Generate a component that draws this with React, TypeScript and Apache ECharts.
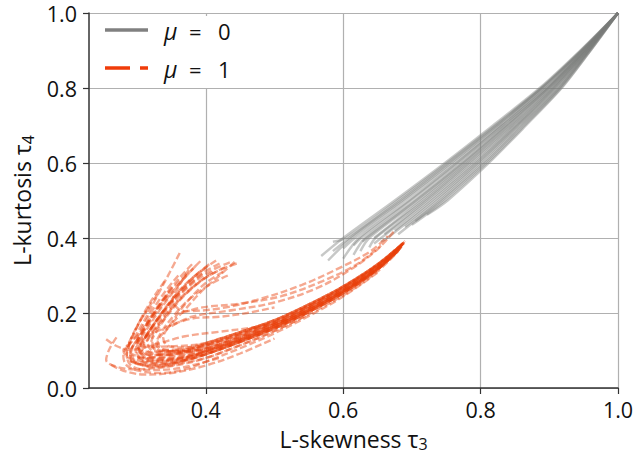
import React, { useEffect, useRef } from 'react';
import * as echarts from 'echarts';

const xTickValues = [0.4, 0.6, 0.8, 1.0];
const xRange = [0.23, 1.0];
const yRange = [0, 1.0];
const legendLabels = ['0', '1'];

// mu = 0 curves: [tau3, tau4] points
const mu0Lines: number[][][] = [
  [[0.568, 0.352], [0.600, 0.400], [0.675, 0.500], [0.748, 0.600], [0.818, 0.700], [0.886, 0.800], [0.945, 0.900], [1, 1]],
  [[0.585, 0.365], [0.609, 0.400], [0.683, 0.500], [0.754, 0.600], [0.823, 0.700], [0.889, 0.800], [0.947, 0.900], [1, 1]],
  [[0.600, 0.372], [0.617, 0.400], [0.690, 0.500], [0.761, 0.600], [0.828, 0.700], [0.892, 0.800], [0.948, 0.900], [1, 1]],
  [[0.615, 0.380], [0.626, 0.400], [0.698, 0.500], [0.767, 0.600], [0.832, 0.700], [0.896, 0.800], [0.950, 0.900], [1, 1]],
  [[0.628, 0.390], [0.634, 0.400], [0.706, 0.500], [0.774, 0.600], [0.837, 0.700], [0.899, 0.800], [0.951, 0.900], [1, 1]],
  [[0.645, 0.400], [0.714, 0.500], [0.780, 0.600], [0.842, 0.700], [0.902, 0.800], [0.953, 0.900], [1, 1]],
  [[0.660, 0.410], [0.721, 0.500], [0.786, 0.600], [0.847, 0.700], [0.905, 0.800], [0.954, 0.900], [1, 1]],
  [[0.675, 0.420], [0.729, 0.500], [0.793, 0.600], [0.852, 0.700], [0.908, 0.800], [0.956, 0.900], [1, 1]],
  [[0.690, 0.430], [0.737, 0.500], [0.799, 0.600], [0.856, 0.700], [0.912, 0.800], [0.957, 0.900], [1, 1]],
  [[0.705, 0.445], [0.744, 0.500], [0.806, 0.600], [0.861, 0.700], [0.915, 0.800], [0.959, 0.900], [1, 1]],
  [[0.722, 0.462], [0.752, 0.500], [0.812, 0.600], [0.866, 0.700], [0.918, 0.800], [0.960, 0.900], [1, 1]],
  [[0.578, 0.340], [0.612, 0.400], [0.686, 0.500], [0.757, 0.600], [0.825, 0.700], [0.890, 0.800], [0.947, 0.900], [1, 1]],
  [[0.600, 0.345], [0.623, 0.400], [0.696, 0.500], [0.765, 0.600], [0.831, 0.700], [0.895, 0.800], [0.949, 0.900], [1, 1]],
  [[0.615, 0.355], [0.632, 0.400], [0.704, 0.500], [0.772, 0.600], [0.836, 0.700], [0.898, 0.800], [0.951, 0.900], [1, 1]],
  [[0.625, 0.365], [0.638, 0.400], [0.710, 0.500], [0.777, 0.600], [0.840, 0.700], [0.900, 0.800], [0.952, 0.900], [1, 1]],
  [[0.638, 0.375], [0.647, 0.400], [0.718, 0.500], [0.783, 0.600], [0.845, 0.700], [0.904, 0.800], [0.954, 0.900], [1, 1]],
  [[0.645, 0.385], [0.655, 0.400], [0.725, 0.500], [0.790, 0.600], [0.850, 0.700], [0.907, 0.800], [0.955, 0.900], [1, 1]],
  [[0.655, 0.390], [0.664, 0.400], [0.733, 0.500], [0.796, 0.600], [0.854, 0.700], [0.910, 0.800], [0.957, 0.900], [1, 1]],
  [[0.680, 0.410], [0.741, 0.500], [0.803, 0.600], [0.859, 0.700], [0.914, 0.800], [0.958, 0.900], [1, 1]],
  [[0.700, 0.435], [0.748, 0.500], [0.809, 0.600], [0.864, 0.700], [0.917, 0.800], [0.960, 0.900], [1, 1]],
  [[0.585, 0.390], [0.604, 0.400], [0.679, 0.500], [0.751, 0.600], [0.821, 0.700], [0.888, 0.800], [0.946, 0.900], [1, 1]],
];

// mu = 1 curves: [tau3, tau4] points
const mu1Lines: number[][][] = [
  [[0.420, 0.332], [0.390, 0.300], [0.360, 0.250], [0.338, 0.200], [0.318, 0.150], [0.305, 0.110], [0.315, 0.085], [0.345, 0.080], [0.375, 0.088], [0.40, 0.098], [0.45, 0.129], [0.50, 0.165], [0.55, 0.208], [0.60, 0.258], [0.65, 0.319], [0.685, 0.378]],
  [[0.400, 0.320], [0.375, 0.285], [0.350, 0.235], [0.330, 0.185], [0.312, 0.135], [0.300, 0.095], [0.310, 0.070], [0.340, 0.065], [0.372, 0.075], [0.40, 0.090], [0.45, 0.123], [0.50, 0.159], [0.55, 0.203], [0.60, 0.253], [0.65, 0.316], [0.683, 0.372]],
  [[0.435, 0.335], [0.405, 0.310], [0.372, 0.265], [0.348, 0.215], [0.328, 0.165], [0.315, 0.125], [0.322, 0.100], [0.350, 0.095], [0.380, 0.100], [0.40, 0.105], [0.45, 0.136], [0.50, 0.170], [0.55, 0.213], [0.60, 0.262], [0.65, 0.323], [0.686, 0.383]],
  [[0.380, 0.330], [0.360, 0.290], [0.340, 0.240], [0.322, 0.190], [0.305, 0.140], [0.292, 0.100], [0.298, 0.070], [0.325, 0.055], [0.362, 0.062], [0.40, 0.080], [0.45, 0.114], [0.50, 0.152], [0.55, 0.197], [0.60, 0.247], [0.65, 0.311], [0.680, 0.365]],
  [[0.410, 0.310], [0.385, 0.275], [0.358, 0.228], [0.336, 0.180], [0.318, 0.135], [0.308, 0.105], [0.318, 0.088], [0.348, 0.090], [0.378, 0.100], [0.40, 0.113], [0.45, 0.143], [0.50, 0.175], [0.55, 0.218], [0.60, 0.267], [0.65, 0.327], [0.688, 0.386]],
  [[0.360, 0.300], [0.342, 0.260], [0.325, 0.215], [0.310, 0.170], [0.298, 0.125], [0.290, 0.090], [0.300, 0.065], [0.330, 0.058], [0.365, 0.070], [0.40, 0.090], [0.45, 0.123], [0.50, 0.159], [0.55, 0.203], [0.60, 0.253], [0.65, 0.316], [0.683, 0.372]],
  [[0.392, 0.338], [0.372, 0.300], [0.350, 0.250], [0.330, 0.200], [0.312, 0.150], [0.300, 0.112], [0.308, 0.090], [0.338, 0.088], [0.370, 0.095], [0.40, 0.105], [0.45, 0.136], [0.50, 0.170], [0.55, 0.213], [0.60, 0.262], [0.65, 0.323], [0.686, 0.383]],
  [[0.372, 0.305], [0.352, 0.265], [0.332, 0.220], [0.315, 0.172], [0.300, 0.128], [0.290, 0.095], [0.292, 0.072], [0.318, 0.060], [0.355, 0.066], [0.40, 0.098], [0.45, 0.129], [0.50, 0.165], [0.55, 0.208], [0.60, 0.258], [0.65, 0.319], [0.685, 0.378]],
  [[0.350, 0.270], [0.335, 0.230], [0.320, 0.190], [0.308, 0.150], [0.300, 0.120], [0.305, 0.100], [0.330, 0.095], [0.365, 0.105], [0.40, 0.120], [0.45, 0.149], [0.50, 0.181], [0.55, 0.223], [0.60, 0.271], [0.65, 0.330], [0.689, 0.389]],
  [[0.445, 0.332], [0.415, 0.310], [0.385, 0.275], [0.358, 0.230], [0.338, 0.180], [0.322, 0.135], [0.325, 0.105], [0.350, 0.098], [0.380, 0.105], [0.40, 0.113], [0.45, 0.143], [0.50, 0.175], [0.55, 0.218], [0.60, 0.267], [0.65, 0.327], [0.688, 0.386]],
  [[0.330, 0.250], [0.315, 0.210], [0.300, 0.165], [0.288, 0.120], [0.280, 0.085], [0.285, 0.060], [0.305, 0.045], [0.335, 0.040], [0.370, 0.050], [0.40, 0.070], [0.45, 0.106], [0.50, 0.146], [0.55, 0.192], [0.60, 0.244], [0.65, 0.308]],
  [[0.405, 0.330], [0.382, 0.295], [0.356, 0.245], [0.335, 0.195], [0.316, 0.148], [0.303, 0.108], [0.310, 0.080], [0.340, 0.072], [0.372, 0.080], [0.40, 0.098], [0.45, 0.129], [0.50, 0.165], [0.55, 0.208], [0.60, 0.258], [0.65, 0.319], [0.685, 0.378]],
  [[0.270, 0.135], [0.260, 0.105], [0.255, 0.075], [0.268, 0.058], [0.295, 0.050], [0.335, 0.055], [0.370, 0.068], [0.40, 0.080], [0.45, 0.114], [0.50, 0.152], [0.55, 0.197]],
  [[0.375, 0.315], [0.362, 0.275], [0.352, 0.235], [0.368, 0.205], [0.420, 0.212], [0.480, 0.238], [0.540, 0.275], [0.600, 0.325], [0.640, 0.365], [0.665, 0.405]],
  [[0.350, 0.165], [0.380, 0.190], [0.440, 0.208], [0.500, 0.228], [0.560, 0.265], [0.610, 0.315], [0.650, 0.370], [0.675, 0.420]],
  [[0.415, 0.340], [0.388, 0.305], [0.360, 0.255], [0.338, 0.205], [0.320, 0.158], [0.310, 0.120], [0.318, 0.095], [0.345, 0.088], [0.375, 0.095], [0.40, 0.105], [0.45, 0.136], [0.50, 0.170], [0.55, 0.213], [0.60, 0.262], [0.65, 0.323], [0.686, 0.383]],
  [[0.395, 0.305], [0.370, 0.265], [0.345, 0.220], [0.325, 0.172], [0.310, 0.128], [0.305, 0.098], [0.318, 0.078], [0.350, 0.075], [0.380, 0.085], [0.40, 0.090], [0.45, 0.123], [0.50, 0.159], [0.55, 0.203], [0.60, 0.253], [0.65, 0.316], [0.683, 0.372]],
  [[0.428, 0.322], [0.398, 0.292], [0.368, 0.245], [0.345, 0.195], [0.328, 0.150], [0.320, 0.118], [0.330, 0.100], [0.358, 0.098], [0.385, 0.108], [0.40, 0.120], [0.45, 0.149], [0.50, 0.181], [0.55, 0.223], [0.60, 0.271], [0.65, 0.330], [0.689, 0.389]],
  [[0.340, 0.285], [0.325, 0.245], [0.310, 0.200], [0.298, 0.155], [0.288, 0.115], [0.285, 0.085], [0.300, 0.065], [0.330, 0.062], [0.365, 0.072], [0.40, 0.090], [0.45, 0.123], [0.50, 0.159], [0.55, 0.203], [0.60, 0.253], [0.65, 0.316], [0.678, 0.362]],
  [[0.385, 0.325], [0.365, 0.285], [0.342, 0.235], [0.322, 0.185], [0.306, 0.138], [0.298, 0.100], [0.305, 0.078], [0.332, 0.070], [0.365, 0.078], [0.40, 0.098], [0.45, 0.129], [0.50, 0.165], [0.55, 0.208], [0.60, 0.258], [0.65, 0.319], [0.685, 0.378]],
  [[0.432, 0.300], [0.405, 0.275], [0.375, 0.235], [0.352, 0.190], [0.335, 0.148], [0.328, 0.118], [0.338, 0.102], [0.365, 0.102], [0.390, 0.112], [0.45, 0.149], [0.50, 0.181], [0.55, 0.223], [0.60, 0.271], [0.65, 0.330], [0.690, 0.392]],
  [[0.255, 0.130], [0.270, 0.112], [0.290, 0.102], [0.330, 0.118], [0.370, 0.138], [0.420, 0.150], [0.470, 0.162], [0.520, 0.182]],
  [[0.262, 0.062], [0.280, 0.046], [0.310, 0.036], [0.350, 0.040], [0.400, 0.060], [0.450, 0.092], [0.500, 0.132]],
  [[0.362, 0.360], [0.348, 0.310], [0.332, 0.255], [0.315, 0.195], [0.298, 0.140], [0.285, 0.095], [0.290, 0.062], [0.315, 0.048], [0.350, 0.050], [0.390, 0.065], [0.420, 0.080]],
  [[0.365, 0.200], [0.395, 0.215], [0.450, 0.225], [0.510, 0.245], [0.570, 0.285], [0.620, 0.330], [0.655, 0.380]],
  [[0.300, 0.125], [0.340, 0.160], [0.380, 0.185], [0.420, 0.190], [0.460, 0.200], [0.500, 0.215]],
  [[0.330, 0.090], [0.360, 0.095], [0.40, 0.113], [0.45, 0.143], [0.50, 0.175], [0.55, 0.218], [0.60, 0.267], [0.65, 0.327], [0.688, 0.386]],
  [[0.300, 0.080], [0.340, 0.078], [0.40, 0.098], [0.45, 0.129], [0.50, 0.165], [0.55, 0.208], [0.60, 0.258], [0.65, 0.319], [0.685, 0.378]],
  [[0.320, 0.110], [0.360, 0.112], [0.40, 0.120], [0.45, 0.149], [0.50, 0.181], [0.55, 0.223], [0.60, 0.271], [0.65, 0.330], [0.689, 0.389]],
  [[0.290, 0.070], [0.330, 0.066], [0.370, 0.075], [0.40, 0.090], [0.45, 0.123], [0.50, 0.159], [0.55, 0.203], [0.60, 0.253], [0.65, 0.316], [0.683, 0.372]],
  [[0.442, 0.336], [0.420, 0.300], [0.395, 0.260], [0.370, 0.210], [0.345, 0.160], [0.330, 0.122], [0.340, 0.102], [0.370, 0.098], [0.40, 0.107], [0.45, 0.138], [0.50, 0.172], [0.55, 0.215], [0.60, 0.264], [0.65, 0.325], [0.687, 0.384]],
  [[0.345, 0.250], [0.325, 0.200], [0.305, 0.150], [0.290, 0.120], [0.280, 0.100], [0.288, 0.080], [0.315, 0.072], [0.355, 0.078], [0.40, 0.094], [0.45, 0.126], [0.50, 0.162], [0.55, 0.206], [0.60, 0.256], [0.65, 0.318], [0.684, 0.375]],
  [[0.425, 0.310], [0.400, 0.280], [0.380, 0.245], [0.362, 0.205], [0.348, 0.168], [0.338, 0.135], [0.345, 0.112], [0.372, 0.108], [0.40, 0.115], [0.45, 0.145], [0.50, 0.178], [0.55, 0.220], [0.60, 0.269], [0.65, 0.329], [0.688, 0.387]],
  [[0.318, 0.215], [0.305, 0.180], [0.295, 0.145], [0.288, 0.110], [0.295, 0.088], [0.325, 0.082], [0.360, 0.088], [0.40, 0.101], [0.45, 0.132], [0.50, 0.168], [0.55, 0.211], [0.60, 0.260], [0.65, 0.321]],
];

const GRAY = '#7a7d7a';
const ORANGE = '#e8400c';
const FONT = '"Open Sans", "DejaVu Sans", sans-serif';

export default function App() {
  const ref = useRef<HTMLDivElement>(null);
  useEffect(() => {
    document.body.style.margin = '0';
    const chart = echarts.init(ref.current!, null, { renderer: 'svg' });
    const series: any[] = [
      ...mu0Lines.map((d) => ({
        type: 'line', data: d, smooth: 0.3, symbol: 'none', silent: true, z: 2,
        lineStyle: { color: GRAY, width: 2.4, opacity: 0.42 },
      })),
      ...mu1Lines.map((d) => ({
        type: 'line', data: d, smooth: 0.35, symbol: 'none', silent: true, z: 3,
        lineStyle: { color: ORANGE, width: 2.4, opacity: 0.45, type: [7, 3] },
      })),
    ];
    const subRich = {
      sub: { fontSize: 16, fontFamily: FONT, padding: [11, 0, 0, 0], color: '#111' },
    };
    chart.setOption({
      animation: false,
      grid: { left: 89, right: 20, top: 13, bottom: 73 },
      xAxis: {
        type: 'value', min: xRange[0], max: xRange[1],
        name: 'L-skewness τ{sub|3}', nameLocation: 'middle', nameGap: 37,
        nameTextStyle: { fontSize: 23, fontFamily: FONT, color: '#111', rich: subRich },
        axisLine: { show: true, onZero: false, lineStyle: { color: '#333', width: 1.5 } },
        axisTick: { show: true, length: 6, customValues: xTickValues, lineStyle: { color: '#333', width: 1.2 } },
        axisLabel: { customValues: xTickValues, fontSize: 21.5, fontFamily: FONT, color: '#111', margin: 10, formatter: (v: number) => v.toFixed(1) },
        splitLine: { show: true, lineStyle: { color: '#b0b0b0', width: 1.2 } },
      },
      yAxis: {
        type: 'value', min: yRange[0], max: yRange[1], interval: 0.2,
        name: 'L-kurtosis τ{sub|4}', nameLocation: 'middle', nameGap: 47, nameRotate: 90,
        nameTextStyle: { fontSize: 23, fontFamily: FONT, color: '#111', rich: subRich },
        axisLine: { show: true, onZero: false, lineStyle: { color: '#333', width: 1.5 } },
        axisTick: { show: true, length: 6, lineStyle: { color: '#333', width: 1.2 } },
        axisLabel: { fontSize: 21.5, fontFamily: FONT, color: '#111', margin: 12, formatter: (v: number) => v.toFixed(1) },
        splitLine: { show: true, lineStyle: { color: '#b0b0b0', width: 1.2 } },
      },
      series,
      graphic: [
        { type: 'rect', z: 10, shape: { x: 92, y: 16, width: 150, height: 72 }, style: { fill: '#fff' }, silent: true },
        { type: 'line', z: 11, shape: { x1: 105, y1: 30, x2: 148, y2: 30 }, style: { stroke: '#808080', lineWidth: 3.5 } },
        { type: 'line', z: 11, shape: { x1: 105, y1: 68, x2: 148, y2: 68 }, style: { stroke: '#f03c0a', lineWidth: 3.5, lineDash: [25, 10] } },
        { type: 'text', z: 11, x: 164, y: 31, style: { text: 'μ', fontSize: 23, fontStyle: 'italic', fontFamily: FONT, fill: '#111', verticalAlign: 'middle' } },
        { type: 'text', z: 11, x: 189, y: 31, style: { text: '=', fontSize: 22, fontFamily: FONT, fill: '#111', verticalAlign: 'middle' } },
        { type: 'text', z: 11, x: 218, y: 31, style: { text: legendLabels[0], fontSize: 22, fontFamily: FONT, fill: '#111', verticalAlign: 'middle' } },
        { type: 'text', z: 11, x: 164, y: 69, style: { text: 'μ', fontSize: 23, fontStyle: 'italic', fontFamily: FONT, fill: '#111', verticalAlign: 'middle' } },
        { type: 'text', z: 11, x: 189, y: 69, style: { text: '=', fontSize: 22, fontFamily: FONT, fill: '#111', verticalAlign: 'middle' } },
        { type: 'text', z: 11, x: 218, y: 69, style: { text: legendLabels[1], fontSize: 22, fontFamily: FONT, fill: '#111', verticalAlign: 'middle' } },
      ],
    });
    return () => chart.dispose();
  }, []);
  return <div ref={ref} style={{ width: 638, height: 461 }} />;
}
